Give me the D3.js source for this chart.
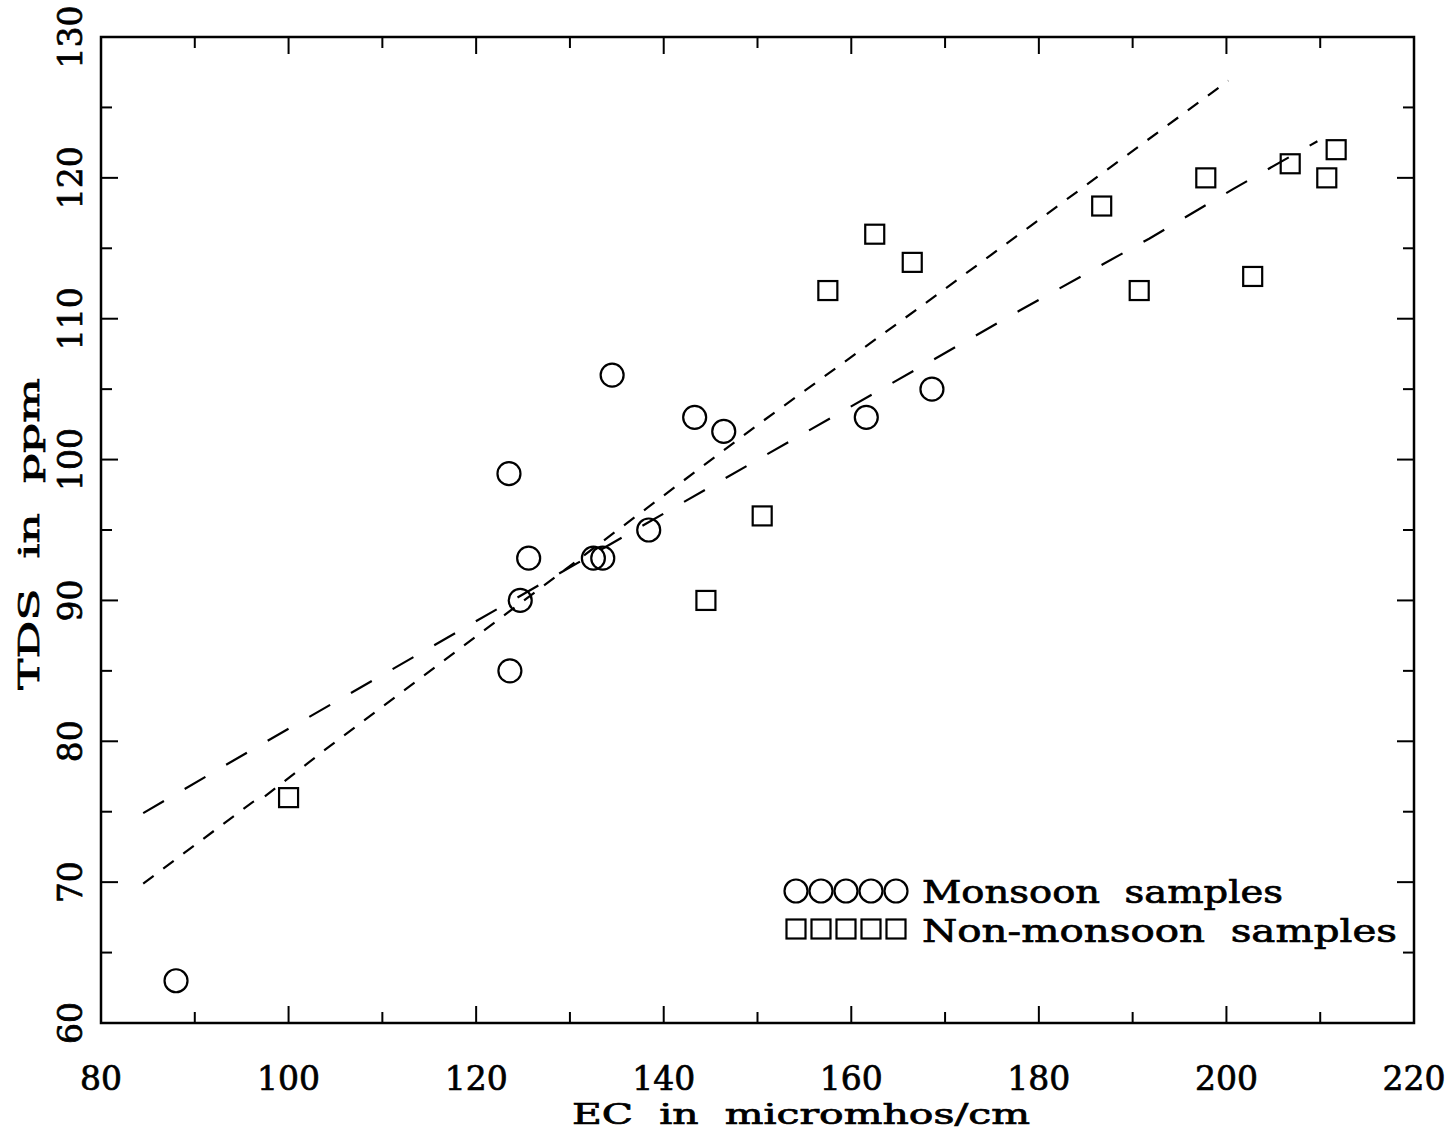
<!DOCTYPE html>
<html>
<head>
<meta charset="utf-8">
<script src="https://cdn.jsdelivr.net/npm/d3@7"></script>
<style>
  body { margin: 0; background: #fff; }
  svg { display: block; font-family: "DejaVu Serif", serif; }
  text { stroke: #000; stroke-width: 0.7; white-space: pre; }
</style>
</head>
<body>
<svg id="chart" width="1452" height="1140"></svg>
<script>
// values
var monsoonEC  = [88, 123.5, 123.6, 124.7, 125.6, 132.5, 133.5, 134.5, 138.4, 143.3, 146.4, 161.6, 168.6];
var monsoonTDS = [63, 99, 85, 90, 93, 93, 93, 106, 95, 103, 102, 103, 105];

var nonMonsoonEC  = [100, 144.5, 150.5, 157.5, 162.5, 166.5, 186.7, 190.7, 197.8, 202.8, 206.8, 210.7, 211.7];
var nonMonsoonTDS = [76, 90, 96, 112, 116, 114, 118, 112, 120, 113, 121, 120, 122];

// the two dashed fit lines, as drawn
var shortDashFit = [[84.5, 69.9], [96.2, 75.7], [97.3, 76.0], [103.9, 79.4], [150.3, 102.6], [167.9, 111.1], [200.2, 126.9]];
var longDashFit  = [[84.5, 74.9], [96.1, 79.4], [150.3, 100.1], [178.0, 110.6], [191.8, 115.7], [200.7, 119.2], [205.7, 121.1], [209.7, 122.6]];

var xTicks = d3.range(80, 221, 20);
var yTicks = d3.range(60, 131, 10);

var legendItems = ["Monsoon  samples", "Non-monsoon  samples"];

var svg = d3.select("#chart"),
    plotLeft = 101, plotRight = 1414, plotTop = 37, plotBottom = 1023;

var x = d3.scaleLinear().domain([80, 220]).range([plotLeft, plotRight]);
var y = d3.scaleLinear().domain([60, 130]).range([plotBottom, plotTop]);

var frame = svg.append("g").attr("fill", "none").attr("stroke", "#000");

frame.append("rect")
  .attr("x", plotLeft).attr("y", plotTop)
  .attr("width", plotRight - plotLeft).attr("height", plotBottom - plotTop)
  .attr("stroke-width", 2.5);

// inward ticks on all four sides, long on labelled values
d3.range(90, 220, 10).forEach(function (v) {
  var len = v % 20 === 0 ? 17 : 11;
  frame.append("line").attr("x1", x(v)).attr("x2", x(v))
    .attr("y1", plotBottom).attr("y2", plotBottom - len).attr("stroke-width", 2);
  frame.append("line").attr("x1", x(v)).attr("x2", x(v))
    .attr("y1", plotTop).attr("y2", plotTop + len).attr("stroke-width", 2);
});
d3.range(65, 130, 5).forEach(function (v) {
  var len = v % 10 === 0 ? 17 : 11;
  frame.append("line").attr("y1", y(v)).attr("y2", y(v))
    .attr("x1", plotLeft).attr("x2", plotLeft + len).attr("stroke-width", 2);
  frame.append("line").attr("y1", y(v)).attr("y2", y(v))
    .attr("x1", plotRight).attr("x2", plotRight - len).attr("stroke-width", 2);
});

// tick labels
svg.append("g").selectAll("text")
  .data(xTicks).enter().append("text")
  .attr("x", d => x(d)).attr("y", 1090)
  .attr("text-anchor", "middle")
  .attr("font-size", 33)
  .text(d => d);

svg.append("g").selectAll("text")
  .data(yTicks).enter().append("text")
  .attr("transform", d => "translate(82," + y(d) + ") rotate(-90)")
  .attr("text-anchor", "middle")
  .attr("font-size", 33)
  .text(d => d);

// axis titles (stretched wide like the original typeface)
svg.append("text")
  .attr("x", 572).attr("y", 1124)
  .attr("font-size", 27)
  .attr("textLength", 458).attr("lengthAdjust", "spacingAndGlyphs")
  .text("EC  in  micromhos/cm");

svg.append("text")
  .attr("transform", "translate(39,690) rotate(-90)")
  .attr("font-size", 28)
  .attr("textLength", 312).attr("lengthAdjust", "spacingAndGlyphs")
  .text("TDS  in  ppm");

// fit lines
var line = d3.line().x(d => x(d[0])).y(d => y(d[1]));

svg.append("path")
  .datum(shortDashFit)
  .attr("d", line)
  .attr("fill", "none").attr("stroke", "#000")
  .attr("stroke-width", 2.2)
  .attr("stroke-dasharray", "13,12");

svg.append("path")
  .datum(longDashFit)
  .attr("d", line)
  .attr("fill", "none").attr("stroke", "#000")
  .attr("stroke-width", 2.2)
  .attr("stroke-dasharray", "24,24");

// markers
var r = 11.5, s = 19;

svg.append("g").selectAll("circle")
  .data(d3.zip(monsoonEC, monsoonTDS)).enter().append("circle")
  .attr("cx", d => x(d[0])).attr("cy", d => y(d[1]))
  .attr("r", r)
  .attr("fill", "none").attr("stroke", "#000").attr("stroke-width", 2.2);

svg.append("g").selectAll("rect")
  .data(d3.zip(nonMonsoonEC, nonMonsoonTDS)).enter().append("rect")
  .attr("x", d => x(d[0]) - s / 2).attr("y", d => y(d[1]) - s / 2)
  .attr("width", s).attr("height", s)
  .attr("fill", "none").attr("stroke", "#000").attr("stroke-width", 2.2);

// legend: five overlapping symbols then label
var legend = svg.append("g");
d3.range(5).forEach(function (i) {
  legend.append("circle")
    .attr("cx", 796 + i * 25).attr("cy", 891).attr("r", r)
    .attr("fill", "none").attr("stroke", "#000").attr("stroke-width", 2.2);
  legend.append("rect")
    .attr("x", 796 + i * 25 - s / 2).attr("y", 929 - s / 2)
    .attr("width", s).attr("height", s)
    .attr("fill", "none").attr("stroke", "#000").attr("stroke-width", 2.2);
});

legend.selectAll("text")
  .data(legendItems).enter().append("text")
  .attr("x", 922)
  .attr("y", (d, i) => 903 + i * 39)
  .attr("font-size", 32)
  .attr("textLength", (d, i) => i === 0 ? 361 : 475)
  .attr("lengthAdjust", "spacingAndGlyphs")
  .text(d => d);
</script>
</body>
</html>
